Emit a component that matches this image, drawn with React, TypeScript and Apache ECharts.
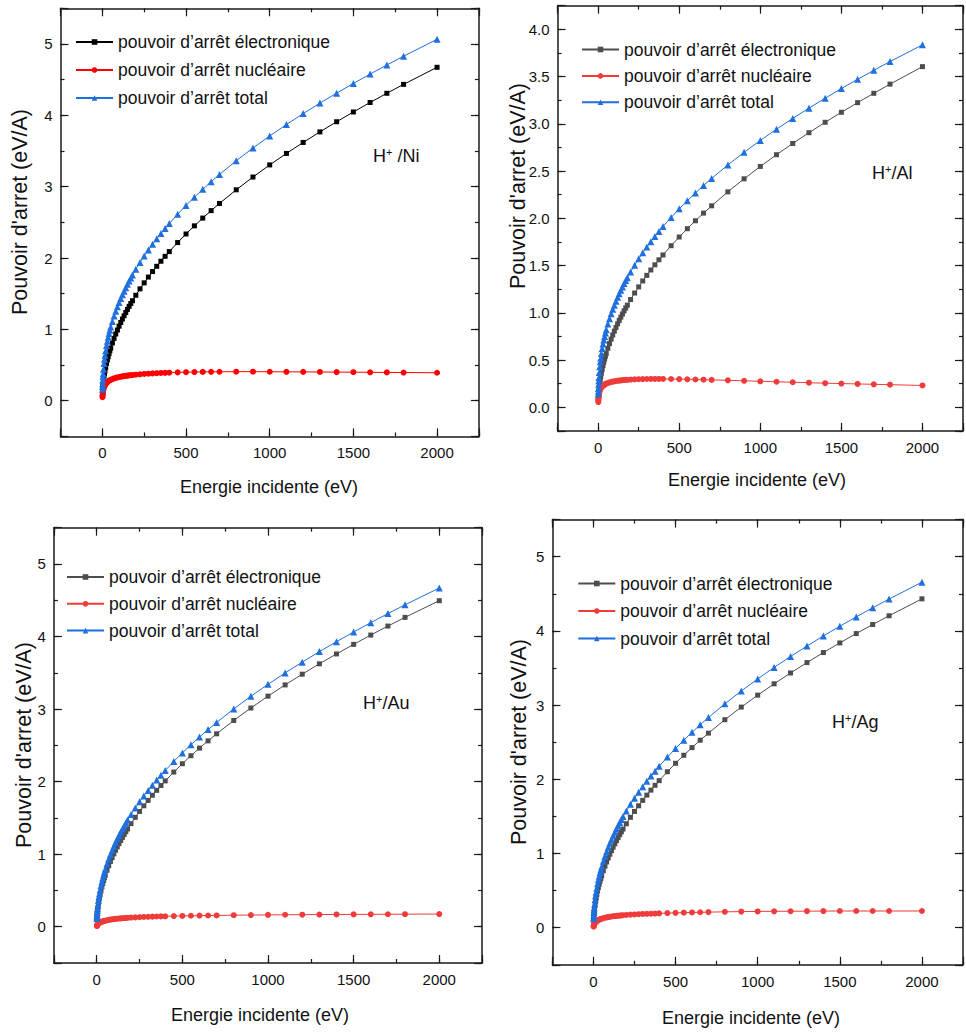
import React, { useEffect, useRef } from "react";
import * as echarts from "echarts";

// Incident energy grid (eV), shared by all four panels
const energy = [1.1, 1.5, 2, 3, 4, 5, 7, 10, 13, 16, 20, 25, 30, 35, 40, 45, 50, 60, 70, 80, 90, 100, 110, 120, 130, 140, 150, 160, 170, 180, 200, 225, 250, 275, 300, 325, 350, 375, 400, 450, 500, 550, 600, 650, 700, 800, 900, 1000, 1100, 1200, 1300, 1400, 1500, 1600, 1700, 1800, 2000];

// H+ / Ni
const niElec = [0.110, 0.128, 0.148, 0.181, 0.209, 0.234, 0.276, 0.330, 0.377, 0.418, 0.467, 0.523, 0.572, 0.618, 0.661, 0.701, 0.739, 0.809, 0.874, 0.935, 0.991, 1.045, 1.096, 1.145, 1.191, 1.236, 1.280, 1.322, 1.362, 1.402, 1.478, 1.568, 1.652, 1.733, 1.810, 1.884, 1.955, 2.024, 2.090, 2.217, 2.337, 2.451, 2.560, 2.664, 2.765, 2.956, 3.135, 3.305, 3.466, 3.620, 3.768, 3.910, 4.047, 4.180, 4.309, 4.434, 4.673];
const niNucl = [0.050, 0.070, 0.085, 0.110, 0.130, 0.145, 0.165, 0.190, 0.205, 0.220, 0.235, 0.250, 0.262, 0.272, 0.280, 0.287, 0.293, 0.303, 0.312, 0.320, 0.326, 0.332, 0.337, 0.341, 0.345, 0.349, 0.352, 0.355, 0.358, 0.360, 0.365, 0.370, 0.375, 0.379, 0.383, 0.386, 0.389, 0.391, 0.393, 0.397, 0.400, 0.402, 0.404, 0.405, 0.406, 0.407, 0.407, 0.406, 0.405, 0.404, 0.403, 0.401, 0.400, 0.398, 0.397, 0.395, 0.392];
const niTotal = [0.160, 0.198, 0.233, 0.291, 0.339, 0.379, 0.441, 0.520, 0.582, 0.638, 0.702, 0.773, 0.834, 0.890, 0.941, 0.988, 1.032, 1.112, 1.186, 1.255, 1.317, 1.377, 1.433, 1.486, 1.536, 1.585, 1.632, 1.677, 1.720, 1.762, 1.843, 1.938, 2.027, 2.112, 2.193, 2.270, 2.344, 2.415, 2.483, 2.614, 2.737, 2.853, 2.964, 3.069, 3.171, 3.363, 3.542, 3.711, 3.871, 4.024, 4.171, 4.311, 4.447, 4.578, 4.706, 4.829, 5.065];

// H+ / Al
const alElec = [0.085, 0.099, 0.114, 0.140, 0.161, 0.180, 0.213, 0.255, 0.291, 0.322, 0.360, 0.403, 0.441, 0.477, 0.510, 0.541, 0.570, 0.624, 0.674, 0.721, 0.765, 0.806, 0.845, 0.883, 0.919, 0.954, 0.987, 1.020, 1.051, 1.081, 1.140, 1.209, 1.274, 1.337, 1.396, 1.453, 1.508, 1.561, 1.612, 1.710, 1.802, 1.890, 1.974, 2.055, 2.132, 2.280, 2.418, 2.549, 2.673, 2.792, 2.906, 3.016, 3.122, 3.224, 3.323, 3.420, 3.605];
const alNucl = [0.055, 0.070, 0.085, 0.105, 0.120, 0.135, 0.155, 0.175, 0.190, 0.200, 0.210, 0.220, 0.228, 0.235, 0.240, 0.245, 0.250, 0.257, 0.263, 0.268, 0.272, 0.275, 0.278, 0.281, 0.283, 0.285, 0.287, 0.289, 0.290, 0.291, 0.293, 0.295, 0.297, 0.298, 0.299, 0.300, 0.300, 0.300, 0.300, 0.299, 0.298, 0.296, 0.294, 0.292, 0.290, 0.285, 0.280, 0.275, 0.270, 0.265, 0.260, 0.255, 0.251, 0.247, 0.243, 0.239, 0.231];
const alTotal = [0.140, 0.169, 0.199, 0.245, 0.281, 0.315, 0.368, 0.430, 0.481, 0.522, 0.570, 0.623, 0.669, 0.712, 0.750, 0.786, 0.820, 0.881, 0.937, 0.989, 1.037, 1.081, 1.123, 1.164, 1.202, 1.239, 1.274, 1.309, 1.341, 1.372, 1.433, 1.504, 1.571, 1.635, 1.695, 1.753, 1.808, 1.861, 1.912, 2.009, 2.100, 2.186, 2.268, 2.347, 2.422, 2.565, 2.698, 2.824, 2.943, 3.057, 3.166, 3.271, 3.373, 3.471, 3.566, 3.659, 3.836];

// H+ / Au
const auElec = [0.105, 0.123, 0.142, 0.174, 0.201, 0.225, 0.266, 0.318, 0.362, 0.402, 0.449, 0.503, 0.550, 0.595, 0.636, 0.674, 0.711, 0.778, 0.841, 0.899, 0.953, 1.005, 1.054, 1.101, 1.146, 1.189, 1.231, 1.271, 1.310, 1.348, 1.421, 1.508, 1.589, 1.667, 1.741, 1.812, 1.880, 1.946, 2.010, 2.132, 2.247, 2.357, 2.462, 2.562, 2.659, 2.843, 3.015, 3.178, 3.333, 3.481, 3.624, 3.760, 3.892, 4.020, 4.144, 4.264, 4.494];
const auNucl = [0.010, 0.013, 0.016, 0.021, 0.025, 0.029, 0.035, 0.042, 0.048, 0.053, 0.058, 0.064, 0.069, 0.073, 0.077, 0.080, 0.083, 0.089, 0.094, 0.098, 0.102, 0.105, 0.108, 0.111, 0.113, 0.115, 0.117, 0.119, 0.121, 0.123, 0.126, 0.129, 0.132, 0.135, 0.137, 0.139, 0.141, 0.143, 0.144, 0.147, 0.149, 0.151, 0.153, 0.155, 0.156, 0.159, 0.161, 0.163, 0.165, 0.166, 0.168, 0.169, 0.170, 0.171, 0.172, 0.173, 0.175];
const auTotal = [0.115, 0.136, 0.158, 0.195, 0.226, 0.254, 0.301, 0.360, 0.410, 0.455, 0.507, 0.567, 0.619, 0.668, 0.713, 0.754, 0.794, 0.867, 0.935, 0.997, 1.055, 1.110, 1.162, 1.212, 1.259, 1.304, 1.348, 1.390, 1.431, 1.471, 1.547, 1.637, 1.721, 1.802, 1.878, 1.951, 2.021, 2.089, 2.154, 2.279, 2.396, 2.508, 2.615, 2.717, 2.815, 3.002, 3.176, 3.341, 3.498, 3.647, 3.792, 3.929, 4.062, 4.191, 4.316, 4.437, 4.669];

// H+ / Ag
const agElec = [0.104, 0.121, 0.140, 0.172, 0.198, 0.222, 0.262, 0.313, 0.357, 0.396, 0.443, 0.496, 0.543, 0.586, 0.627, 0.665, 0.701, 0.768, 0.829, 0.886, 0.940, 0.991, 1.039, 1.086, 1.130, 1.173, 1.214, 1.254, 1.292, 1.330, 1.401, 1.487, 1.567, 1.643, 1.716, 1.787, 1.854, 1.919, 1.982, 2.102, 2.216, 2.324, 2.427, 2.527, 2.622, 2.803, 2.973, 3.134, 3.287, 3.433, 3.573, 3.708, 3.838, 3.964, 4.086, 4.204, 4.432];
const agNucl = [0.015, 0.020, 0.025, 0.033, 0.040, 0.046, 0.055, 0.066, 0.074, 0.081, 0.088, 0.096, 0.103, 0.108, 0.113, 0.117, 0.121, 0.128, 0.134, 0.139, 0.143, 0.147, 0.151, 0.154, 0.157, 0.160, 0.162, 0.164, 0.166, 0.168, 0.172, 0.176, 0.179, 0.182, 0.185, 0.187, 0.189, 0.191, 0.193, 0.197, 0.200, 0.203, 0.206, 0.208, 0.210, 0.214, 0.217, 0.219, 0.221, 0.222, 0.223, 0.224, 0.225, 0.225, 0.225, 0.225, 0.225];
const agTotal = [0.119, 0.141, 0.165, 0.205, 0.238, 0.268, 0.317, 0.379, 0.431, 0.477, 0.531, 0.592, 0.646, 0.694, 0.740, 0.782, 0.822, 0.896, 0.963, 1.025, 1.083, 1.138, 1.190, 1.240, 1.287, 1.333, 1.376, 1.418, 1.458, 1.498, 1.573, 1.663, 1.746, 1.825, 1.901, 1.974, 2.043, 2.110, 2.175, 2.299, 2.416, 2.527, 2.633, 2.735, 2.832, 3.017, 3.190, 3.353, 3.508, 3.655, 3.796, 3.932, 4.063, 4.189, 4.311, 4.429, 4.657];

// Tick labels
const xTickLabels = [0, 500, 1000, 1500, 2000];
const yTickLabelsInt = [0, 1, 2, 3, 4, 5];
const yTickLabelsAl = [0, 0.5, 1, 1.5, 2, 2.5, 3, 3.5, 4];

const legendNames = ["pouvoir d\u2019arr\u00eat \u00e9lectronique", "pouvoir d\u2019arr\u00eat nucl\u00e9aire", "pouvoir d\u2019arr\u00eat total"];
const xTitle = "Energie incidente (eV)";
const yTitle = "Pouvoir d'arret (eV/A)";

const FONT = "'Liberation Sans', Arial, Helvetica, sans-serif";
const AXIS_COLOR = "#1a1a1a";

const panels = [
  {
    key: "Ni", target: "/Ni", tagGap: " ",
    elec: niElec, nucl: niNucl, total: niTotal,
    grid: { left: 60.5, top: 8.3, width: 418.4, height: 428.1 },
    yMin: -0.5, yMax: 5.5, yMinor: 0.5, ySplit: 6, yLabels: yTickLabelsInt, yDec: 0,
    colors: ["#000000", "#ff0000", "#1f6fde"],
    legend: { left: 75, top: 33, gap: 10 },
    xTitlePos: [269, 487], yTitlePos: [20, 212], tagPos: [373, 156],
  },
  {
    key: "Al", target: "/Al", tagGap: "",
    elec: alElec, nucl: alNucl, total: alTotal,
    grid: { left: 557.6, top: 5.7, width: 416.7, height: 425.2 },
    yMin: -0.25, yMax: 4.25, yMinor: 0.25, ySplit: 9, yLabels: yTickLabelsAl, yDec: 1,
    colors: ["#4d4d4d", "#f03b3b", "#1f6fde"],
    legend: { left: 581, top: 40.5, gap: 8.4 },
    xTitlePos: [757, 480], yTitlePos: [518, 186], tagPos: [872, 173],
  },
  {
    key: "Au", target: "/Au", tagGap: "",
    elec: auElec, nucl: auNucl, total: auTotal,
    grid: { left: 53.9, top: 527.7, width: 428.2, height: 435.3 },
    yMin: -0.5, yMax: 5.5, yMinor: 0.5, ySplit: 6, yLabels: yTickLabelsInt, yDec: 0,
    colors: ["#4d4d4d", "#f03b3b", "#1f6fde"],
    legend: { left: 66, top: 568, gap: 8.8 },
    xTitlePos: [260, 1015], yTitlePos: [24, 745], tagPos: [363, 703],
  },
  {
    key: "Ag", target: "/Ag", tagGap: "",
    elec: agElec, nucl: agNucl, total: agTotal,
    grid: { left: 552.4, top: 519.6, width: 415.9, height: 445.2 },
    yMin: -0.5, yMax: 5.5, yMinor: 0.5, ySplit: 6, yLabels: yTickLabelsInt, yDec: 0,
    colors: ["#4d4d4d", "#f03b3b", "#1f6fde"],
    legend: { left: 577.3, top: 574.5, gap: 9.5 },
    xTitlePos: [751, 1018], yTitlePos: [519, 742], tagPos: [832, 722],
  },
];

const X_MIN = -250;
const X_MAX = 2250;
const X_MINOR = 250;

function inList(v: number, list: number[]) {
  return list.some((t) => Math.abs(t - v) < 1e-6);
}

function buildOption() {
  const grids: any[] = [];
  const xAxes: any[] = [];
  const yAxes: any[] = [];
  const series: any[] = [];
  const legends: any[] = [];
  const graphics: any[] = [];

  panels.forEach((p, gi) => {
    grids.push({ ...p.grid, containLabel: false });
    const line = { onZero: false, show: true, lineStyle: { color: AXIS_COLOR, width: 1.5 } };
    const noLine = { onZero: false, show: false };
    const tickMajor = { inside: true, length: 8, lineStyle: { color: AXIS_COLOR, width: 1.2 } };
    const tickMinor = { inside: true, length: 4, lineStyle: { color: AXIS_COLOR, width: 1.2 } };
    const labelStyle = { fontSize: 15, color: "#111", fontFamily: FONT };
    const xb = { gridIndex: gi, type: "value", min: X_MIN, max: X_MAX, splitLine: { show: false }, axisPointer: { show: false } };
    xAxes.push(
      { ...xb, position: "bottom", splitNumber: 5, axisLine: line, axisTick: tickMajor,
        axisLabel: { ...labelStyle, margin: 9, showMinLabel: true, showMaxLabel: true,
          formatter: (v: number) => (inList(v, xTickLabels) ? String(v) : "") } },
      { ...xb, position: "bottom", interval: X_MINOR, axisLine: noLine, axisTick: tickMinor, axisLabel: { show: false } },
      { ...xb, position: "top", splitNumber: 5, axisLine: line, axisTick: tickMajor, axisLabel: { show: false } },
      { ...xb, position: "top", interval: X_MINOR, axisLine: noLine, axisTick: tickMinor, axisLabel: { show: false } },
    );
    const yb = { gridIndex: gi, type: "value", min: p.yMin, max: p.yMax, splitLine: { show: false }, axisPointer: { show: false } };
    yAxes.push(
      { ...yb, position: "left", splitNumber: p.ySplit, axisLine: line, axisTick: tickMajor,
        axisLabel: { ...labelStyle, margin: 8, showMinLabel: true, showMaxLabel: true,
          formatter: (v: number) => (inList(v, p.yLabels) ? v.toFixed(p.yDec) : "") } },
      { ...yb, position: "left", interval: p.yMinor, axisLine: noLine, axisTick: tickMinor, axisLabel: { show: false } },
      { ...yb, position: "right", splitNumber: p.ySplit, axisLine: line, axisTick: tickMajor, axisLabel: { show: false } },
      { ...yb, position: "right", interval: p.yMinor, axisLine: noLine, axisTick: tickMinor, axisLabel: { show: false } },
    );

    const sets = [
      { data: p.elec, symbol: "rect", size: 5 },
      { data: p.nucl, symbol: "circle", size: 6 },
      { data: p.total, symbol: "triangle", size: 7 },
    ];
    const names: string[] = [];
    sets.forEach((s, si) => {
      const name = legendNames[si] + " #" + p.key;
      names.push(name);
      series.push({
        type: "line",
        name,
        xAxisIndex: gi * 4,
        yAxisIndex: gi * 4,
        data: energy.map((e, i) => [e, s.data[i]]),
        symbol: s.symbol,
        symbolSize: s.size,
        showSymbol: true,
        showAllSymbol: true,
        lineStyle: { width: 1, color: p.colors[si] },
        itemStyle: { color: p.colors[si] },
        emphasis: { disabled: true },
        z: 2 + si,
      });
    });

    legends.push({
      orient: "vertical",
      left: p.legend.left,
      top: p.legend.top,
      itemWidth: 37,
      itemHeight: 7,
      itemGap: p.legend.gap,
      padding: 0,
      selectedMode: false,
      data: names,
      formatter: (n: string) => n.split(" #")[0],
      textStyle: { fontSize: 17.5, color: "#111", fontFamily: FONT, padding: [0, 0, 0, 0] },
    });

    graphics.push(
      {
        type: "text", x: p.xTitlePos[0], y: p.xTitlePos[1],
        style: { text: xTitle, fontSize: 18, fontFamily: FONT, fill: "#111", align: "center", verticalAlign: "middle" },
      },
      {
        type: "text", x: p.yTitlePos[0], y: p.yTitlePos[1], rotation: Math.PI / 2,
        style: { text: yTitle, fontSize: 21.5, fontFamily: FONT, fill: "#111", align: "center", verticalAlign: "middle" },
      },
      {
        type: "text", x: p.tagPos[0], y: p.tagPos[1],
        style: {
          text: "{a|H}{s|+}{a|" + p.tagGap + p.target + "}",
          fontFamily: FONT, fill: "#111", align: "left", verticalAlign: "middle",
          rich: {
            a: { fontSize: 18, fontFamily: FONT, fill: "#111", lineHeight: 20 },
            s: { fontSize: 11, fontFamily: FONT, fill: "#111", verticalAlign: "top", lineHeight: 20, padding: [0, 0, 8, 0] },
          },
        },
      },
    );
  });

  return {
    animation: false,
    backgroundColor: "#ffffff",
    grid: grids,
    xAxis: xAxes,
    yAxis: yAxes,
    legend: legends,
    series,
    graphic: graphics,
  };
}

export default function App() {
  const ref = useRef<HTMLDivElement>(null);
  useEffect(() => {
    if (!ref.current) return;
    const chart = echarts.init(ref.current, undefined, { renderer: "svg" });
    chart.setOption(buildOption() as any);
    return () => chart.dispose();
  }, []);
  return (
    <div
      ref={ref}
      style={{ position: "absolute", left: 0, top: 0, width: 966, height: 1034, background: "#fff" }}
    />
  );
}
